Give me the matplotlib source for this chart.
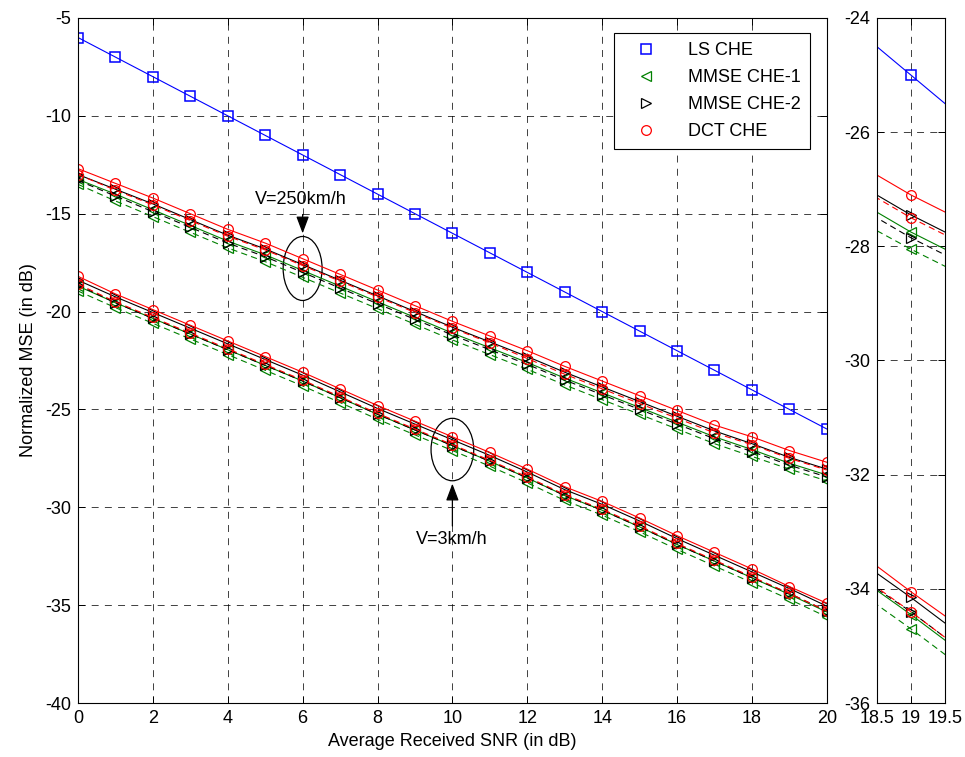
import matplotlib
matplotlib.use("Agg")
import matplotlib.pyplot as plt
from matplotlib.lines import Line2D
from matplotlib.patches import Ellipse

plt.rcParams['font.family'] = ['Liberation Sans', 'DejaVu Sans']
plt.rcParams['font.size'] = 13
plt.rcParams['axes.unicode_minus'] = False
plt.rcParams['lines.scale_dashes'] = False

snr = list(range(0, 21))

ls_che = [-6, -7, -8, -9, -10, -11, -12, -13, -14, -15, -16, -17, -18, -19, -20,
          -21, -22, -23, -24, -25, -26]

# V = 250 km/h
dct_250_a = [-12.7, -13.45, -14.2, -15.0, -15.8, -16.5, -17.3, -18.1, -18.9, -19.7, -20.5,
             -21.25, -22.0, -22.8, -23.55, -24.3, -25.05, -25.8, -26.4, -27.1, -27.7]
dct_250_b = [-13.0, -13.8, -14.55, -15.35, -16.15, -16.85, -17.65, -18.45, -19.25, -20.05, -20.85,
             -21.6, -22.4, -23.2, -23.95, -24.7, -25.45, -26.2, -26.8, -27.5, -28.1]
mmse2_250_a = [-13.0, -13.75, -14.5, -15.3, -16.1, -16.8, -17.6, -18.4, -19.2, -20.0, -20.8,
               -21.55, -22.3, -23.1, -23.85, -24.6, -25.35, -26.1, -26.75, -27.45, -28.05]
mmse2_250_b = [-13.3, -14.1, -14.9, -15.7, -16.5, -17.2, -18.0, -18.8, -19.6, -20.4, -21.2,
               -21.95, -22.7, -23.5, -24.25, -25.0, -25.75, -26.5, -27.15, -27.85, -28.45]
mmse1_250_a = [-13.25, -14.0, -14.8, -15.6, -16.4, -17.1, -17.9, -18.7, -19.5, -20.3, -21.1,
               -21.85, -22.6, -23.4, -24.15, -24.9, -25.65, -26.4, -27.05, -27.75, -28.35]
mmse1_250_b = [-13.5, -14.35, -15.15, -15.95, -16.75, -17.45, -18.25, -19.05, -19.85, -20.65, -21.45,
               -22.2, -22.95, -23.75, -24.5, -25.25, -26.0, -26.75, -27.4, -28.05, -28.65]

# V = 3 km/h
dct_3_a = [-18.2, -19.1, -19.9, -20.7, -21.5, -22.3, -23.1, -23.95, -24.8, -25.6, -26.4,
           -27.2, -28.05, -28.95, -29.7, -30.55, -31.45, -32.3, -33.15, -34.05, -34.9]
dct_3_b = [-18.6, -19.5, -20.3, -21.1, -21.9, -22.7, -23.5, -24.35, -25.2, -26.0, -26.8,
           -27.6, -28.45, -29.35, -30.1, -30.95, -31.85, -32.7, -33.55, -34.4, -35.3]
mmse2_3_a = [-18.4, -19.25, -20.05, -20.85, -21.65, -22.45, -23.25, -24.1, -24.95, -25.75, -26.55,
             -27.35, -28.2, -29.1, -29.85, -30.7, -31.6, -32.45, -33.3, -34.15, -35.05]
mmse2_3_b = [-18.65, -19.55, -20.35, -21.15, -21.95, -22.75, -23.55, -24.4, -25.25, -26.05, -26.85,
             -27.65, -28.5, -29.4, -30.15, -31.0, -31.9, -32.75, -33.6, -34.4, -35.3]
mmse1_3_a = [-18.7, -19.55, -20.35, -21.15, -21.95, -22.75, -23.55, -24.4, -25.25, -26.05, -26.85,
             -27.65, -28.5, -29.4, -30.15, -31.0, -31.9, -32.75, -33.6, -34.45, -35.35]
mmse1_3_b = [-18.95, -19.8, -20.6, -21.4, -22.2, -23.0, -23.8, -24.65, -25.5, -26.3, -27.1,
             -27.9, -28.75, -29.65, -30.4, -31.25, -32.15, -33.0, -33.85, -34.7, -35.6]

GREEN = (0, 0.5, 0)
DASH = (0, (4.5, 3))
LW = 0.8
TRI = dict(ms=6.5, mfc='none', mew=0.9)


def draw_curves(ax):
    ax.plot(snr, ls_che, color='b', lw=LW, marker='s', ms=6.5, mfc='none', mew=1.1)
    for a, b in [(mmse1_250_a, mmse1_250_b), (mmse1_3_a, mmse1_3_b)]:
        ax.plot(snr, a, color=GREEN, lw=LW, marker='<', **TRI)
        ax.plot(snr, b, color=GREEN, lw=LW, ls=DASH, marker='<', **TRI)
    for a, b in [(mmse2_250_a, mmse2_250_b), (mmse2_3_a, mmse2_3_b)]:
        ax.plot(snr, a, color='k', lw=LW, marker='>', **TRI)
        ax.plot(snr, b, color='k', lw=LW, ls=DASH, marker='>', **TRI)
    for a, b in [(dct_250_a, dct_250_b), (dct_3_a, dct_3_b)]:
        ax.plot(snr, a, color='r', lw=LW, marker='o', ms=7, mfc='none', mew=0.9)
        ax.plot(snr, b, color='r', lw=LW, ls=DASH, marker='o', ms=7, mfc='none', mew=0.9)


def style_axes(ax):
    ax.grid(True, color='k', lw=0.7, ls=(0, (5, 4.5)), alpha=0.75)
    ax.tick_params(direction='in', top=True, right=True, length=5, width=0.7, pad=5)
    for s in ax.spines.values():
        s.set_linewidth(0.8)


fig = plt.figure(figsize=(9.65, 7.57), dpi=100)

ax = fig.add_axes([0.0808, 0.0713, 0.776, 0.905])
draw_curves(ax)
ax.set_xlim(0, 20)
ax.set_ylim(-40, -5)
ax.set_xticks(range(0, 21, 2))
ax.set_yticks(range(-40, -4, 5))
style_axes(ax)
ax.set_xlabel('Average Received SNR (in dB)', labelpad=4)
ax.set_ylabel('Normalized MSE (in dB)', labelpad=6)

# annotations
ax.add_patch(Ellipse((6.0, -17.8), 1.04, 3.27, fill=False, ec='k', lw=0.9))
ax.annotate('', xy=(6.0, -16.15), xytext=(6.0, -14.9),
            arrowprops=dict(arrowstyle='-|>,head_length=0.8,head_width=0.3', color='k', lw=0.9))
ax.text(5.96, -14.3, 'V=250km/h', ha='center', va='center')

ax.add_patch(Ellipse((10.0, -27.05), 1.14, 3.19, fill=False, ec='k', lw=0.9))
ax.annotate('', xy=(10.0, -28.65), xytext=(10.0, -31.1),
            arrowprops=dict(arrowstyle='-|>,head_length=0.8,head_width=0.3', color='k', lw=0.9))
ax.text(9.97, -31.65, 'V=3km/h', ha='center', va='center')

handles = [
    Line2D([], [], ls='none', color='b', marker='s', ms=6.5, mfc='none', mew=1.1),
    Line2D([], [], ls='none', color=GREEN, marker='<', **TRI),
    Line2D([], [], ls='none', color='k', marker='>', **TRI),
    Line2D([], [], ls='none', color='r', marker='o', ms=7, mfc='none', mew=0.9),
]
leg = ax.legend(handles, ['LS CHE', 'MMSE CHE-1', 'MMSE CHE-2', 'DCT CHE'],
                loc='upper right', bbox_to_anchor=(0.977, 0.978), fancybox=False,
                framealpha=1, edgecolor='k', borderpad=0.5, labelspacing=0.55,
                handlelength=2.6, handletextpad=1.0, borderaxespad=0)
leg.get_frame().set_linewidth(0.8)

# zoomed inset at SNR = 19 dB
axz = fig.add_axes([0.9085, 0.0713, 0.0708, 0.905])
draw_curves(axz)
axz.set_xlim(18.5, 19.5)
axz.set_ylim(-36, -24)
axz.set_xticks([18.5, 19, 19.5])
axz.set_xticklabels(['18.5', '19', '19.5'])
axz.set_yticks(range(-36, -23, 2))
style_axes(axz)

fig.savefig('out.png', dpi=100)
